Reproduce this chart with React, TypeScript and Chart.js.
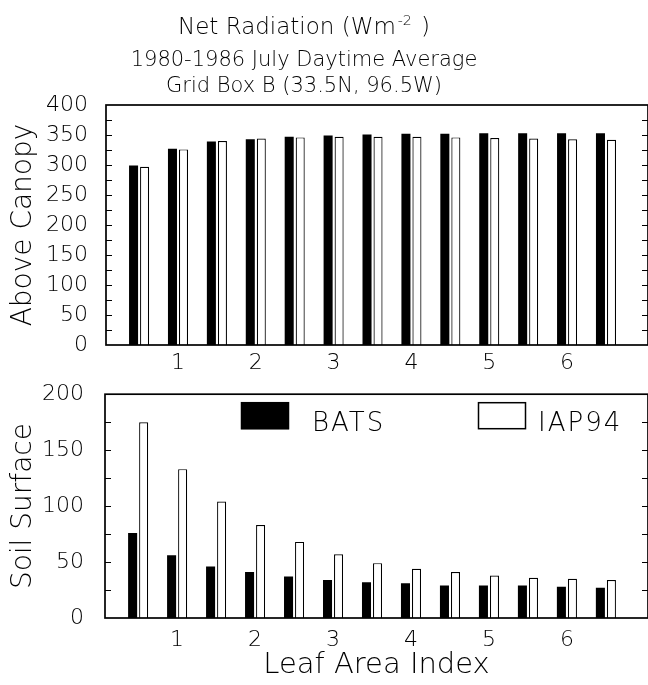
import React, { useEffect, useRef } from "react";
import { Chart, registerables } from "chart.js";

Chart.register(...registerables);

// Leaf area index of each bar pair, and the labelled axis positions
const LAI = [0.5, 1, 1.5, 2, 2.5, 3, 3.5, 4, 4.5, 5, 5.5, 6, 6.5];
const X_TICKS = [1, 2, 3, 4, 5, 6];

// Net radiation (W m-2)
const CANOPY_BATS = [299, 327, 339, 343, 347, 349, 351, 352, 352, 353, 353, 353, 353];
const CANOPY_IAP94 = [297, 326, 340, 344, 346, 347, 347, 347, 346, 345, 344, 343, 342];
const SOIL_BATS = [76, 56, 46, 41, 37, 34, 32, 31, 29, 29, 29, 28, 27];
const SOIL_IAP94 = [175, 133, 104, 83, 68, 57, 49, 44, 41, 38, 36, 35, 34];

const SERIES = ["BATS", "IAP94"];

const TITLE_MAIN = "Net Radiation (Wm";
const TITLE_SUP = "-2";
const TITLE_CLOSE = " )";
const SUBTITLE = ["1980-1986 July Daytime Average", "Grid Box B (33.5N, 96.5W)"];
const X_TITLE = "Leaf Area Index";
const TOP_Y_TITLE = "Above Canopy";
const BOTTOM_Y_TITLE = "Soil Surface";

const INK = "#000";
const FONT = "'DejaVu Sans', sans-serif";
const WEIGHT = 200;
const X_MIN = 0.075;
const X_MAX = 7.04;
const MINOR_STEP = 25;

const font = (size: number) => `${WEIGHT} ${size}px ${FONT}`;

// Box around the plot area with short inward ticks on both sides
const framePlugin = {
  id: "frame",
  afterDatasetsDraw(chart: any) {
    const { ctx, chartArea: a, scales } = chart;
    const y = scales.y;
    ctx.save();
    ctx.strokeStyle = INK;
    ctx.lineWidth = 1.2;
    ctx.beginPath();
    for (let v = y.min + MINOR_STEP; v < y.max; v += MINOR_STEP) {
      const py = Math.round(y.getPixelForValue(v)) + 0.5;
      ctx.moveTo(a.left, py);
      ctx.lineTo(a.left + 6, py);
      ctx.moveTo(a.right - 6, py);
      ctx.lineTo(a.right, py);
    }
    ctx.stroke();
    ctx.lineWidth = 1.7;
    ctx.strokeRect(a.left, a.top, a.right - a.left, a.bottom - a.top);
    ctx.restore();
  },
};

// Three-line heading above the upper panel
const headingPlugin = {
  id: "headings",
  afterDraw(chart: any) {
    const { ctx } = chart;
    const cx = 304;
    ctx.save();
    ctx.fillStyle = INK;
    ctx.textBaseline = "alphabetic";
    ctx.textAlign = "left";
    ctx.font = font(23);
    const w1 = ctx.measureText(TITLE_MAIN).width;
    const w3 = ctx.measureText(TITLE_CLOSE).width;
    ctx.font = font(14);
    const w2 = ctx.measureText(TITLE_SUP).width;
    let x = cx - (w1 + w2 + w3 + 4) / 2;
    ctx.font = font(23);
    ctx.fillText(TITLE_MAIN, x, 34);
    x += w1 + 2;
    ctx.font = font(14);
    ctx.fillText(TITLE_SUP, x, 25);
    x += w2 + 2;
    ctx.font = font(23);
    ctx.fillText(TITLE_CLOSE, x, 34);
    ctx.textAlign = "center";
    ctx.font = font(21);
    SUBTITLE.forEach((line, i) => ctx.fillText(line, cx, 66 + i * 26));
    ctx.restore();
  },
};

// Legend boxes inside the lower panel, offsets from the plot area corner
const LEGEND_SLOTS = [
  { box: 136, text: 207 },
  { box: 373, text: 433 },
];
const legendPlugin = {
  id: "boxLegend",
  afterDatasetsDraw(chart: any) {
    const { ctx, chartArea: a } = chart;
    ctx.save();
    ctx.font = font(26);
    ctx.textBaseline = "alphabetic";
    ctx.textAlign = "left";
    if ("letterSpacing" in ctx) (ctx as any).letterSpacing = "2px";
    chart.data.datasets.forEach((ds: any, i: number) => {
      const slot = LEGEND_SLOTS[i];
      const bx = a.left + slot.box;
      const by = a.top + 8;
      ctx.fillStyle = ds.backgroundColor;
      ctx.fillRect(bx, by, 48, 27);
      ctx.strokeStyle = INK;
      ctx.lineWidth = 1.5;
      ctx.strokeRect(bx + 0.5, by + 0.5, 47, 26);
      ctx.fillStyle = INK;
      ctx.fillText(ds.label, a.left + slot.text, a.top + 37);
    });
    ctx.restore();
  },
};

type Panel = {
  bats: number[];
  iap: number[];
  yMax: number;
  yTitle: string;
  axisLeft: number;
  padTop: number;
  xAxisHeight: number;
  xTickPad: number;
  yTickPad: number;
  xTitle?: string;
  extra: any[];
};

function panelConfig(p: Panel): any {
  const tickFont = { family: FONT, size: 22, weight: WEIGHT };
  return {
    type: "bar",
    data: {
      datasets: [
        {
          label: SERIES[0],
          data: LAI.map((x, i) => ({ x, y: p.bats[i] })),
          backgroundColor: INK,
          borderColor: INK,
          borderWidth: 0,
        },
        {
          label: SERIES[1],
          data: LAI.map((x, i) => ({ x, y: p.iap[i] })),
          backgroundColor: "#ffffff",
          borderColor: INK,
          borderWidth: 1.2,
        },
      ],
    },
    options: {
      responsive: false,
      animation: false,
      events: [],
      datasets: { bar: { categoryPercentage: 0.566, barPercentage: 0.82 } },
      layout: { padding: { top: p.padTop, right: 12, left: 0, bottom: 0 } },
      plugins: {
        legend: { display: false },
        tooltip: { enabled: false },
        title: { display: false },
      },
      scales: {
        x: {
          type: "linear",
          offset: false,
          min: X_MIN,
          max: X_MAX,
          grid: { display: false, drawTicks: false },
          border: { display: false },
          afterBuildTicks: (s: any) => {
            s.ticks = X_TICKS.map((v) => ({ value: v }));
          },
          afterFit: (s: any) => {
            s.height = p.xAxisHeight;
          },
          ticks: {
            padding: p.xTickPad,
            color: INK,
            autoSkip: false,
            maxRotation: 0,
            font: tickFont,
          },
          title: p.xTitle
            ? {
                display: true,
                text: p.xTitle,
                color: INK,
                font: { family: FONT, size: 29, weight: WEIGHT },
                padding: { top: 0, bottom: 2 },
              }
            : { display: false },
        },
        y: {
          min: 0,
          max: p.yMax,
          grid: { display: false, drawTicks: false },
          border: { display: false },
          afterFit: (s: any) => {
            s.width = p.axisLeft;
          },
          ticks: {
            stepSize: 50,
            padding: p.yTickPad,
            color: INK,
            font: tickFont,
          },
          title: {
            display: true,
            text: p.yTitle,
            color: INK,
            font: { family: FONT, size: 28, weight: WEIGHT },
            padding: { top: 7, bottom: 0 },
          },
        },
      },
    },
    plugins: [framePlugin, ...p.extra],
  };
}

export default function App() {
  const topRef = useRef<HTMLCanvasElement>(null);
  const bottomRef = useRef<HTMLCanvasElement>(null);

  useEffect(() => {
    const top = new Chart(
      topRef.current as HTMLCanvasElement,
      panelConfig({
        bats: CANOPY_BATS,
        iap: CANOPY_IAP94,
        yMax: 400,
        yTitle: TOP_Y_TITLE,
        axisLeft: 106,
        padTop: 105,
        xAxisHeight: 35,
        xTickPad: 5,
        yTickPad: 18,
        extra: [headingPlugin],
      })
    );
    const bottom = new Chart(
      bottomRef.current as HTMLCanvasElement,
      panelConfig({
        bats: SOIL_BATS,
        iap: SOIL_IAP94,
        yMax: 200,
        yTitle: BOTTOM_Y_TITLE,
        axisLeft: 105,
        padTop: 19,
        xAxisHeight: 67,
        xTickPad: 9,
        yTickPad: 21,
        xTitle: X_TITLE,
        extra: [legendPlugin],
      })
    );
    return () => {
      top.destroy();
      bottom.destroy();
    };
  }, []);

  return (
    <div
      style={{
        position: "fixed",
        left: 0,
        top: 0,
        width: 648,
        height: 685,
        overflow: "hidden",
        background: "#ffffff",
      }}
    >
      <canvas ref={topRef} width={660} height={380} style={{ position: "absolute", left: 0, top: 0 }} />
      <canvas ref={bottomRef} width={660} height={325} style={{ position: "absolute", left: 0, top: 360 }} />
    </div>
  );
}
